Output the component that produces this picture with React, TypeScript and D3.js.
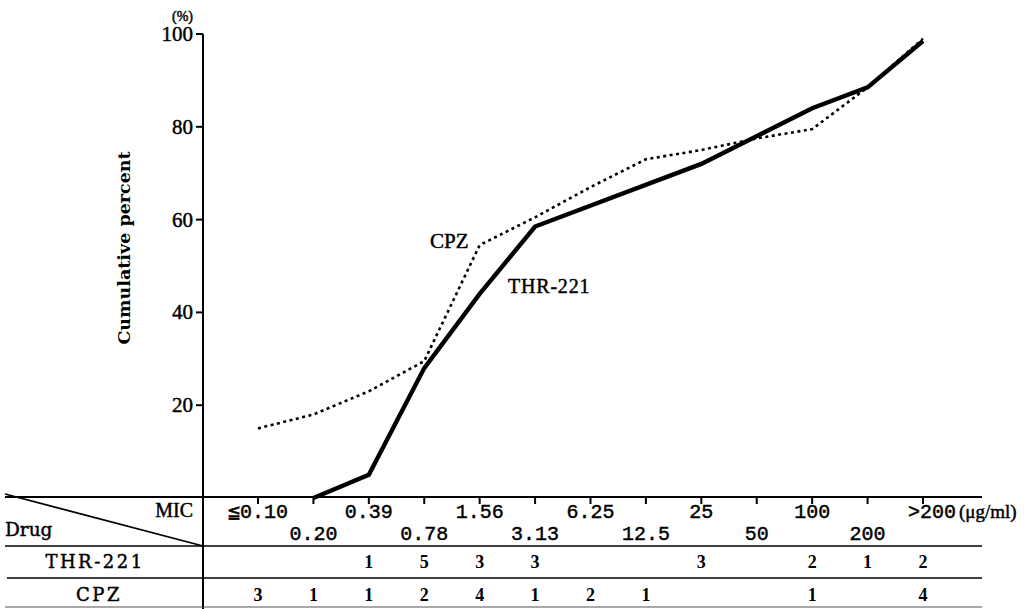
import React from "react";
import * as d3 from "d3";

const categories = ["≦0.10", "0.20", "0.39", "0.78", "1.56", "3.13", "6.25", "12.5", "25", "50", "100", "200", ">200"];
const thrCumulative: (number | null)[] = [null, 0, 5, 28, 44, 58.5, null, null, 72, null, 84, 88.5, 98.5];
const cpzCumulative: (number | null)[] = [15, 18, 23, 29.5, 54.5, 60.5, 67, 73, 75, 77.5, 79.5, 88.5, 99];
const thrCounts = ["", "", "1", "5", "3", "3", "", "", "3", "", "2", "1", "2"];
const cpzCounts = ["3", "1", "1", "2", "4", "1", "2", "1", "", "", "1", "", "4"];
const yTicks = [20, 40, 60, 80, 100];

const W = 1029;
const H = 609;
const axisX = 203;
const tableTop = 497;
const headerBottom = 546;
const thrBottom = 578;
const cpzBottom = 607;
const tableLeft = 5;
const tableRight = 982;

export default function App() {
  const x = d3.scalePoint<string>().domain(categories).range([258, 923]);
  const y = d3.scaleLinear().domain([0, 100]).range([498, 34]);

  const toPts = (vals: (number | null)[]) =>
    categories
      .map((c, i) => ({ c, v: vals[i] }))
      .filter((d) => d.v !== null) as { c: string; v: number }[];

  const line = d3
    .line<{ c: string; v: number }>()
    .x((d) => x(d.c) as number)
    .y((d) => y(d.v));

  const thrPath = line(toPts(thrCumulative)) || "";
  const cpzPath = line(toPts(cpzCumulative)) || "";

  const serif = "'Liberation Serif', 'Times New Roman', serif";
  const mono = "'Liberation Mono', 'DejaVu Sans Mono', monospace";
  const dserif = "'DejaVu Serif', serif";
  const heavy = { stroke: "#000", strokeWidth: 0.45 };

  return (
    <svg
      width={W}
      height={H}
      style={{ position: "absolute", left: 0, top: 0, background: "#fff" }}
    >
      <rect x={0} y={0} width={W} height={H} fill="#fff" />

      {/* Y axis */}
      <line x1={axisX} x2={axisX} y1={y(100)} y2={H} stroke="#000" strokeWidth={2} />
      {yTicks.map((t) => (
        <g key={t}>
          <line x1={axisX - 7} x2={axisX} y1={y(t)} y2={y(t)} stroke="#000" strokeWidth={2} />
          <text
            x={axisX - 10}
            y={y(t) + 7}
            textAnchor="end"
            fontFamily={serif}
            fontSize={21}
            fill="#000"
            {...heavy}
          >
            {t}
          </text>
        </g>
      ))}
      <text x={193} y={21} textAnchor="end" fontFamily={serif} fontSize={14} fill="#000" {...heavy}>
        (%)
      </text>
      <text
        transform="translate(130,248) rotate(-90)"
        textAnchor="middle"
        fontFamily={dserif}
        fontSize={17.5}
        fontWeight={600}
        fill="#000"
      >
        Cumulative percent
      </text>

      {/* Table lines */}
      <line x1={tableLeft} x2={tableRight} y1={tableTop} y2={tableTop} stroke="#000" strokeWidth={2} />
      <line x1={tableLeft} x2={axisX} y1={tableTop - 3} y2={headerBottom} stroke="#000" strokeWidth={1.8} />
      <line x1={tableLeft} x2={tableRight} y1={headerBottom} y2={headerBottom} stroke="#000" strokeWidth={1.5} />
      <line x1={tableLeft + 2} x2={tableRight} y1={thrBottom} y2={thrBottom} stroke="#000" strokeWidth={1.5} />
      <line x1={tableLeft} x2={tableRight} y1={cpzBottom} y2={cpzBottom} stroke="#555" strokeWidth={1.2} />

      {/* X ticks */}
      {categories.map((c) => (
        <line
          key={"t" + c}
          x1={x(c)}
          x2={x(c)}
          y1={tableTop}
          y2={tableTop + 7}
          stroke="#000"
          strokeWidth={2}
        />
      ))}

      {/* X tick labels, staggered */}
      {categories.map((c, i) => {
        const px = x(c) as number;
        if (c === ">200") {
          return (
            <text key={"l" + c} x={px - 15} y={518} fontFamily={mono} fontSize={20} fill="#000" {...heavy}>
              {c}
              <tspan fontFamily={serif} fontSize={19} dx={3}>
                (μg/ml)
              </tspan>
            </text>
          );
        }
        return (
          <text
            key={"l" + c}
            x={px}
            y={i % 2 === 0 ? 518 : 540}
            textAnchor="middle"
            fontFamily={mono}
            fontSize={20}
            fill="#000"
            {...heavy}
          >
            {c}
          </text>
        );
      })}

      {/* Header labels */}
      <text x={193} y={517} textAnchor="end" fontFamily={serif} fontSize={20} fill="#000" {...heavy}>
        MIC
      </text>
      <text x={5} y={536} fontFamily={dserif} fontSize={18.5} fill="#000" {...heavy}>
        Drug
      </text>

      {/* Row labels */}
      <text x={95} y={568} textAnchor="middle" fontFamily={dserif} fontSize={18} letterSpacing={2.5} fill="#000" {...heavy}>
        THR-221
      </text>
      <text x={99} y={601} textAnchor="middle" fontFamily={dserif} fontSize={18} letterSpacing={2.5} fill="#000" {...heavy}>
        CPZ
      </text>

      {/* Counts */}
      {categories.map((c, i) => (
        <g key={"c" + c}>
          <text x={x(c)} y={568} textAnchor="middle" fontFamily={serif} fontWeight={700} fontSize={18} fill="#000">
            {thrCounts[i]}
          </text>
          <text x={x(c)} y={601} textAnchor="middle" fontFamily={serif} fontWeight={700} fontSize={18} fill="#000">
            {cpzCounts[i]}
          </text>
        </g>
      ))}

      {/* Lines */}
      <path d={cpzPath} fill="none" stroke="#000" strokeWidth={2.6} strokeDasharray="3 3.5" />
      <path d={thrPath} fill="none" stroke="#000" strokeWidth={4.4} strokeLinejoin="miter" />

      {/* Series labels */}
      <text x={430} y={248} fontFamily={serif} fontSize={21} fill="#000" {...heavy}>
        CPZ
      </text>
      <text x={508} y={293} fontFamily={serif} fontSize={20} letterSpacing={0.8} fill="#000" {...heavy}>
        THR-221
      </text>
    </svg>
  );
}
